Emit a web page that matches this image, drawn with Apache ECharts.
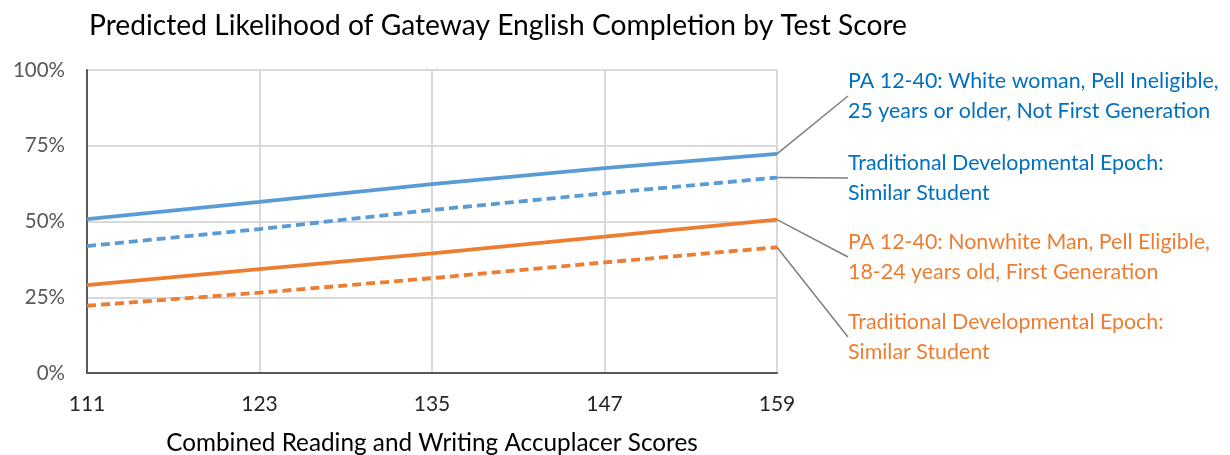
<html>
<head>
    <meta charset="utf-8">
    <title>Gateway English</title>
    <script src="https://cdn.jsdelivr.net/npm/echarts@6/dist/echarts.min.js"></script>
</head>
<body style="margin:0">

<div id="main" style="width: 1230px;height:455px;"></div>

<script type="text/javascript">

    // test scores on the x axis
    var scores = ['111', '123', '135', '147', '159'];

    // predicted likelihood, percent
    var paWhiteWoman = [50.8, 56.5, 62.3, 67.6, 72.3];
    var tradSimilarBlue = [41.9, 47.5, 53.8, 59.3, 64.5];
    var paNonwhiteMan = [29.0, 34.3, 39.5, 45.0, 50.6];
    var tradSimilarOrange = [22.2, 26.5, 31.3, 36.5, 41.5];

    var seriesNames = [
        'PA 12-40: White woman, Pell Ineligible,\n25 years or older, Not First Generation',
        'Traditional Developmental Epoch:\nSimilar Student',
        'PA 12-40: Nonwhite Man, Pell Eligible,\n18-24 years old, First Generation',
        'Traditional Developmental Epoch:\nSimilar Student'
    ];

    var BLUE = '#5B9BD5', BLUE_TXT = '#0070C0', ORANGE = '#ED7D31';
    var FONT = 'Lato';

    var myChart = echarts.init(document.getElementById('main'));

    // one line, label only on the last point with a leader line
    function makeLine(name, vals, color, txtColor, dashed, labelY) {
        var last = vals.length - 1;
        return {
            name: name,
            type: 'line',
            showSymbol: true,
            symbol: 'circle',
            symbolSize: 0,
            silent: true,
            lineStyle: {color: color, width: 3.8, type: dashed ? [9, 5] : 'solid'},
            itemStyle: {color: color},
            emphasis: {disabled: true},
            labelLine: {show: true, length2: 14, lineStyle: {color: '#7f7f7f', width: 1.5}},
            labelLayout: {x: 848, y: labelY, align: 'left', verticalAlign: 'middle'},
            data: vals.map(function (v, i) {
                if (i !== last) return v;
                return {
                    value: v,
                    label: {
                        show: true,
                        formatter: name,
                        color: txtColor,
                        fontFamily: FONT,
                        fontSize: 21.4,
                        lineHeight: 30
                    }
                };
            })
        };
    }

    var option = {
        animation: false,
        title: {
            text: 'Predicted Likelihood of Gateway English Completion by Test Score',
            left: 84,
            top: 7,
            textStyle: {fontFamily: FONT, fontWeight: 'normal', fontSize: 28.2, color: '#000'}
        },
        grid: {left: 87, right: 453, top: 70, bottom: 82, outerBoundsMode: 'none'},
        xAxis: {
            type: 'category',
            boundaryGap: false,
            data: scores,
            name: 'Combined Reading and Writing Accuplacer Scores',
            nameLocation: 'middle',
            nameGap: 58,
            nameTextStyle: {fontFamily: FONT, fontSize: 24.3, color: '#000'},
            axisLine: {lineStyle: {color: '#595959', width: 2}},
            axisTick: {show: false},
            axisLabel: {fontFamily: FONT, fontSize: 21, color: '#262626', margin: 21},
            splitLine: {show: true, lineStyle: {color: '#d9d9d9', width: 2}}
        },
        yAxis: {
            type: 'value',
            min: 0,
            max: 100,
            interval: 25,
            axisLine: {show: true, lineStyle: {color: '#595959', width: 2}},
            axisTick: {show: false},
            axisLabel: {formatter: '{value}%', fontFamily: FONT, fontSize: 20.5, color: '#595959', margin: 22},
            splitLine: {lineStyle: {color: '#d9d9d9', width: 2}}
        },
        series: [
            makeLine(seriesNames[0], paWhiteWoman, BLUE, BLUE_TXT, false, 96),
            makeLine(seriesNames[1], tradSimilarBlue, BLUE, BLUE_TXT, true, 178),
            makeLine(seriesNames[2], paNonwhiteMan, ORANGE, ORANGE, false, 257),
            makeLine(seriesNames[3], tradSimilarOrange, ORANGE, ORANGE, true, 337)
        ]
    };

    myChart.setOption(option);

</script>
</body>
</html>
